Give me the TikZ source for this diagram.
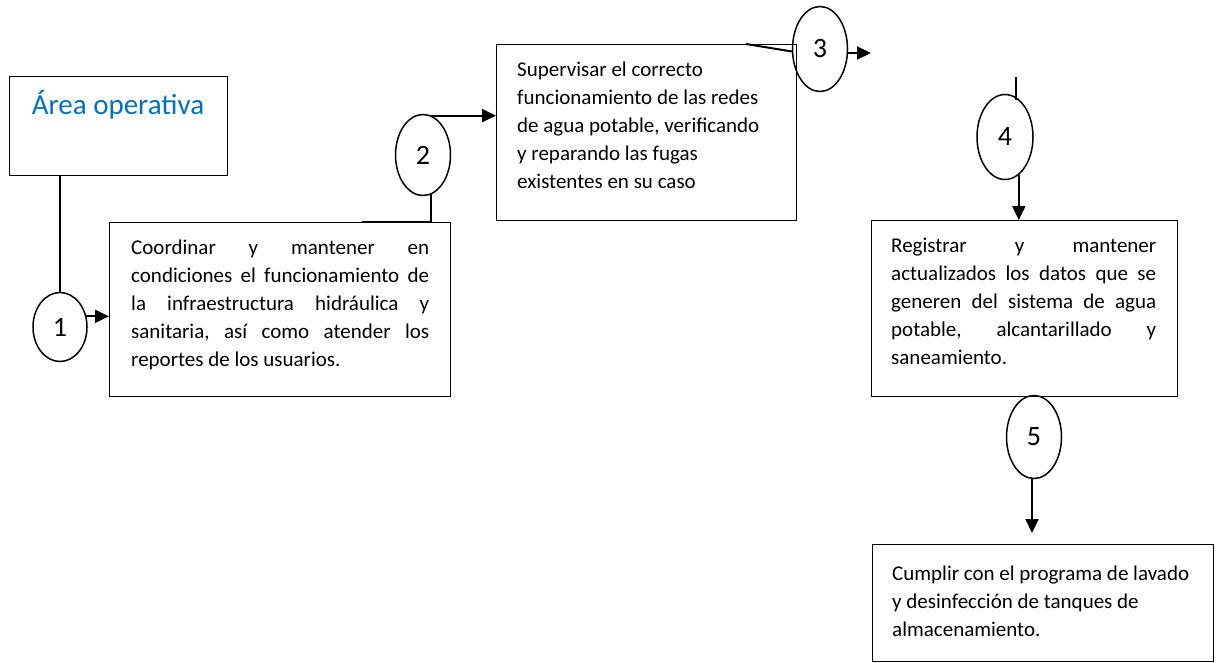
\documentclass[tikz,border=0pt]{standalone}
\usepackage{fontspec}
\setmainfont{Carlito}
\usetikzlibrary{shapes.geometric,arrows.meta,calc}
\definecolor{titleblue}{RGB}{0,112,192}
\newcommand\joa[1]{\hbox to 298pt{#1}\\}
\newcommand\job[1]{\hbox to 265pt{#1}\\}
\tikzset{
  boxs/.style={draw,line width=0.9pt,inner sep=0pt,anchor=north west},
  txt/.style={anchor=north west,inner sep=0pt,font=\fontsize{21}{28}\selectfont},
  num/.style={draw,ellipse,line width=1.5pt,inner sep=0pt,font=\fontsize{28}{28}\selectfont},
  conn/.style={line width=2pt},
  arr/.style={line width=2pt,-{Triangle[length=14pt,width=13pt]}}
}
\begin{document}
\begin{tikzpicture}[x=1pt,y=-1pt]
\useasboundingbox (0,0) rectangle (1221,662);
% boxes
\node[boxs,minimum width=218pt,minimum height=99pt] (a) at (9,76) {};
\node[anchor=north,inner sep=0pt,text=titleblue,font=\fontsize{29}{29}\selectfont] (at) at (118,90) {Área operativa};
\node[boxs,minimum width=341pt,minimum height=174pt] (b1) at (109,222) {};
\node[txt,align=left] (t1) at (131,240) {\joa{Coordinar\hfill y\hfill mantener\hfill en}\joa{condiciones\hfill el\hfill funcionamiento\hfill de}\joa{la\hfill infraestructura\hfill hidráulica\hfill y}\joa{sanitaria,\hfill así\hfill como\hfill atender\hfill los}reportes de los usuarios.};
\node[boxs,minimum width=300pt,minimum height=176pt] (b2) at (496,44) {};
\node[txt,align=left] (t2) at (517,62) {Supervisar el correcto\\funcionamiento de las redes\\de agua potable, verificando\\y reparando las fugas\\existentes en su caso};
\node[boxs,minimum width=306pt,minimum height=176pt] (b3) at (871,220) {};
\node[txt,align=left] (t3) at (891,238) {\job{Registrar\hfill y\hfill mantener}\job{actualizados\hfill los\hfill datos\hfill que\hfill se}\job{generen\hfill del\hfill sistema\hfill de\hfill agua}\job{potable,\hfill alcantarillado\hfill y}saneamiento.};
\node[boxs,minimum width=341pt,minimum height=117pt] (b4) at (872,544) {};
\node[txt,align=left] (t4) at (892,566) {Cumplir con el programa de lavado\\y desinfección de tanques de\\almacenamiento.};
% circles
\node[num,minimum width=54pt,minimum height=69pt] (c1) at (60,327) {\raisebox{-5pt}{1}};
\node[num,minimum width=55pt,minimum height=81pt] (c2) at (423,155) {2};
\node[num,minimum width=55pt,minimum height=85pt] (c3) at (820,49) {3};
\node[num,minimum width=56pt,minimum height=85pt] (c4) at (1005,137) {4};
\node[num,minimum width=55pt,minimum height=83pt] (c5) at (1034,437) {5};
% connectors
\draw[conn] (a.south -| c1.north) -- (c1.north);
\draw[arr] (c1.22) -- (c1.22 -| b1.west);
\coordinate (s2) at (362,222);
\draw[conn] (s2) -- (c2.-78 |- b1.north) -- (c2.-78);
\draw[arr] (c2.78) -- (c2.78 -| b2.west);
\coordinate (s3) at (746,44);
\draw[conn] (s3) -- (c3.185);
\coordinate (e3) at (871,53);
\draw[arr] (c3.-5 |- e3) -- (e3);
\coordinate (s4) at (1016,77);
\draw[conn] (s4) -- (s4 |- c4.68);
\draw[arr] (c4.-70) -- (c4.-70 |- b3.north);
\coordinate (e5) at (1032,533);
\draw[arr] (c5.south -| e5) -- (e5);
\end{tikzpicture}
\end{document}
